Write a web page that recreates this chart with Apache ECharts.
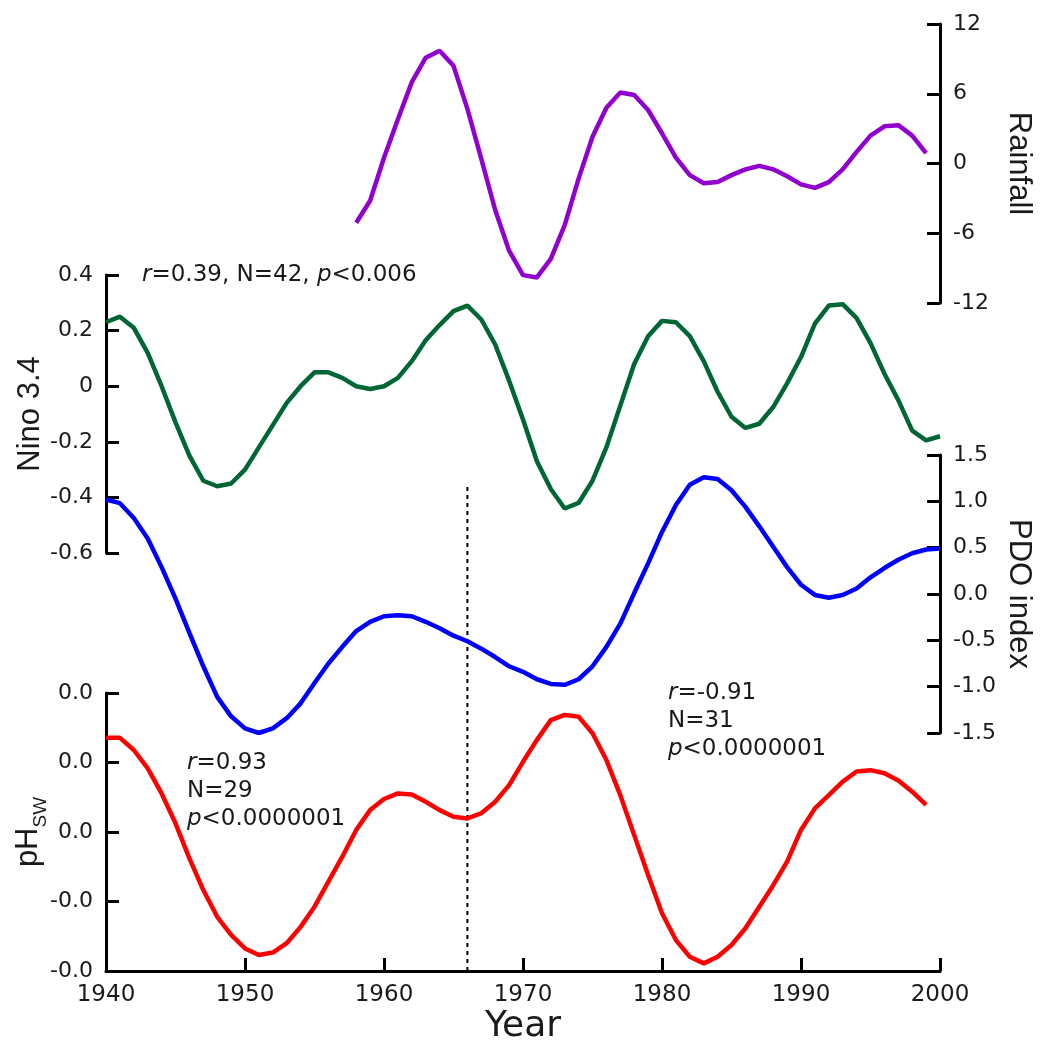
<!DOCTYPE html>
<html><head><meta charset="utf-8">
<script src="https://cdn.jsdelivr.net/npm/echarts@6/dist/echarts.min.js"></script>
<style>html,body{margin:0;padding:0;background:#fff}#c{width:1040px;height:1042px}</style>
</head><body><div id="c"></div>
<script>
// ---------- DATA ----------
const rainfallStart = 1958;
const rainfall = [-5.1,-3.2,0.5,3.8,7.0,9.1,9.7,8.4,4.7,0.4,-4.0,-7.5,-9.6,-9.8,-8.2,-5.3,-1.3,2.3,4.8,6.1,5.9,4.6,2.6,0.5,-1.0,-1.7,-1.6,-1.0,-0.5,-0.2,-0.5,-1.1,-1.8,-2.1,-1.6,-0.5,1.0,2.4,3.2,3.3,2.4,0.9];
const ninoStart = 1940;
const nino = [0.23,0.25,0.21,0.12,0.00,-0.13,-0.25,-0.34,-0.36,-0.35,-0.30,-0.22,-0.14,-0.06,0.00,0.05,0.05,0.03,0.00,-0.01,0.00,0.03,0.09,0.165,0.22,0.27,0.29,0.24,0.15,0.02,-0.12,-0.27,-0.37,-0.44,-0.42,-0.34,-0.22,-0.07,0.08,0.18,0.235,0.23,0.18,0.09,-0.02,-0.11,-0.15,-0.135,-0.075,0.01,0.105,0.225,0.29,0.295,0.245,0.155,0.045,-0.05,-0.16,-0.195,-0.18];
const pdoStart = 1940;
const pdo = [1.02,0.98,0.82,0.60,0.29,-0.05,-0.42,-0.78,-1.11,-1.32,-1.45,-1.50,-1.45,-1.34,-1.18,-0.96,-0.75,-0.57,-0.40,-0.30,-0.24,-0.23,-0.24,-0.30,-0.37,-0.45,-0.51,-0.59,-0.68,-0.78,-0.84,-0.92,-0.97,-0.98,-0.92,-0.78,-0.57,-0.32,0.01,0.33,0.67,0.96,1.18,1.26,1.24,1.12,0.94,0.73,0.51,0.29,0.10,-0.01,-0.04,-0.01,0.06,0.18,0.28,0.37,0.44,0.48,0.49];
const phStart = 1940;
const ph = [0.0271,0.0271,0.0236,0.0183,0.0111,0.0025,-0.0076,-0.0167,-0.0244,-0.0296,-0.0335,-0.0354,-0.0347,-0.032,-0.0273,-0.0215,-0.0143,-0.0071,0.0006,0.0063,0.0095,0.0111,0.0108,0.0087,0.0063,0.0044,0.0039,0.0054,0.0087,0.0135,0.0202,0.0265,0.0322,0.0337,0.0332,0.0284,0.0207,0.0106,-0.0009,-0.0124,-0.0234,-0.0311,-0.0359,-0.0378,-0.0359,-0.0325,-0.0277,-0.0215,-0.0153,-0.0085,0.0006,0.0068,0.0106,0.0145,0.0174,0.0178,0.0169,0.0148,0.0116,0.0078];
const dividerYear = 1966;
const dividerRange = [-0.04, 0.10];
const xTicks = {min: 1940, max: 2000, interval: 10};
const annotations = [
  '{i|r}=0.39, N=42, {i|p}<0.006',
  '{i|r}=0.93\nN=29\n{i|p}<0.0000001',
  '{i|r}=-0.91\nN=31\n{i|p}<0.0000001'
];

// ---------- CHART ----------
const toPairs = (start, arr) => arr.map((v, i) => [start + i, v]);
const BLACK = '#000';
const TXT = '#1a1a1a';
const LAB_FONT = 'DejaVu Sans';
const NAME_FONT = 'Liberation Sans';

const grids = [
  {left: 106, right: 100, top: 24, height: 279},
  {left: 106, right: 100, top: 275, height: 278},
  {left: 106, right: 100, top: 455, height: 278},
  {left: 106, right: 100, top: 693, height: 278}
].map(g => Object.assign({outerBoundsMode: 'none', containLabel: false}, g));

function xAx(i, show) {
  return {
    type: 'value', gridIndex: i, min: xTicks.min, max: xTicks.max, interval: xTicks.interval,
    show: show, splitLine: {show: false},
    axisLine: {show: true, onZero: false, lineStyle: {color: BLACK, width: 3}},
    axisTick: {show: true, inside: true, length: 13, lineStyle: {color: BLACK, width: 3}},
    axisLabel: {fontFamily: LAB_FONT, fontSize: 23, color: TXT, margin: 13, showMinLabel: true, showMaxLabel: true,
      formatter: v => String(v)},
    name: show ? 'Year' : '', nameLocation: 'middle', nameGap: 38, nameMoveOverlap: false,
    nameTextStyle: {fontFamily: LAB_FONT, fontSize: 36, color: TXT}
  };
}
function yAx(i, pos, min, max, interval, name, fmt, rot, gap) {
  return {
    type: 'value', gridIndex: i, position: pos, min: min, max: max, interval: interval,
    splitLine: {show: false},
    axisLine: {show: true, onZero: false, lineStyle: {color: BLACK, width: 3}},
    axisTick: {show: true, inside: true, length: 13, lineStyle: {color: BLACK, width: 3}},
    axisLabel: {fontFamily: LAB_FONT, fontSize: 22, color: TXT, margin: 13, showMinLabel: true, showMaxLabel: true, formatter: fmt},
    name: name, nameLocation: 'middle', nameRotate: rot, nameGap: gap, nameMoveOverlap: false,
    nameTextStyle: {fontFamily: NAME_FONT, fontSize: 31, color: TXT,
      rich: {
        a: {fontFamily: NAME_FONT, fontSize: 31, color: TXT},
        b: {fontFamily: NAME_FONT, fontSize: 19, color: TXT, verticalAlign: 'bottom', padding: [0, 0, -6, 0]}
      }}
  };
}
const fix1 = v => v.toFixed(1);
const lineSeries = (i, color, data) => ({
  type: 'line', xAxisIndex: i, yAxisIndex: i, data: data, showSymbol: false, symbol: 'none',
  lineStyle: {color: color, width: 4.5}, itemStyle: {color: color}, smooth: false, silent: true
});

const richAnn = {
  i: {fontStyle: 'italic', fontFamily: LAB_FONT, fontSize: 23, lineHeight: 28, fill: TXT}
};
function ann(text, x, y) {
  return {
    type: 'text', x: x, y: y, silent: true,
    style: {text: text, fontFamily: LAB_FONT, fontSize: 23, lineHeight: 28, fill: TXT,
      align: 'left', verticalAlign: 'middle', rich: richAnn}
  };
}

const option = {
  animation: false,
  backgroundColor: '#fff',
  grid: grids,
  xAxis: [xAx(0, false), xAx(1, false), xAx(2, false), xAx(3, true)],
  yAxis: [
    yAx(0, 'right', -12, 12, 6, 'Rainfall', null, -90, 63),
    yAx(1, 'left', -0.6, 0.4, 0.2, 'Nino 3.4', null, 90, 60),
    yAx(2, 'right', -1.5, 1.5, 0.5, 'PDO index', fix1, -90, 63),
    yAx(3, 'left', -0.04, 0.04, 0.02, '{a|pH}{b|SW}', fix1, 90, 62)
  ],
  series: [
    Object.assign(lineSeries(3, BLACK, [[dividerYear, dividerRange[0]], [dividerYear, dividerRange[1]]]),
      {lineStyle: {color: BLACK, width: 2, type: [4, 4]}, clip: false, z: 1}),
    lineSeries(0, '#9100cf', toPairs(rainfallStart, rainfall)),
    lineSeries(1, '#006633', toPairs(ninoStart, nino)),
    lineSeries(2, '#0000ff', toPairs(pdoStart, pdo)),
    lineSeries(3, '#ff0000', toPairs(phStart, ph))
  ],
  graphic: [
    ann(annotations[0], 142, 275),
    ann(annotations[1], 187, 791),
    ann(annotations[2], 668, 721)
  ]
};
const chart = echarts.init(document.getElementById('c'), null, {renderer: 'canvas'});
chart.setOption(option);
</script>
</body></html>
